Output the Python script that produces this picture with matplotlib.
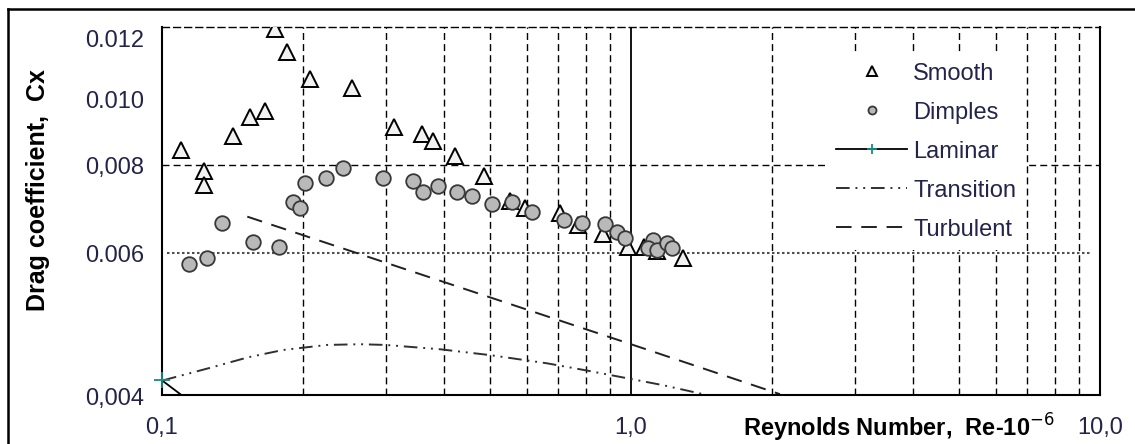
import numpy as np
import matplotlib.pyplot as plt
from matplotlib.lines import Line2D
from matplotlib.ticker import LogLocator, NullLocator, NullFormatter
from matplotlib.transforms import ScaledTranslation

plt.rcParams['font.family'] = ['Liberation Sans', 'DejaVu Sans']

# measured drag coefficients (Re in millions)
smooth_re = [0.110, 0.123, 0.123, 0.142, 0.154, 0.166, 0.174, 0.185, 0.207, 0.254,
             0.312, 0.358, 0.378, 0.421, 0.486, 0.552, 0.594, 0.706, 0.771, 0.872,
             0.985, 1.066, 1.136, 1.291]
smooth_cx = [0.00837, 0.00784, 0.00752, 0.00871, 0.00922, 0.00941, 0.01201, 0.01124, 0.01036, 0.01006,
             0.00897, 0.00876, 0.00858, 0.00822, 0.00772, 0.00716, 0.00703, 0.00691, 0.00668, 0.00649,
             0.00624, 0.00624, 0.00616, 0.00604]

dimples_re = [0.114, 0.125, 0.134, 0.156, 0.178, 0.190, 0.197, 0.202, 0.224, 0.243,
              0.296, 0.343, 0.360, 0.388, 0.426, 0.458, 0.505, 0.558, 0.615, 0.720,
              0.786, 0.880, 0.934, 0.971, 1.114, 1.087, 1.136, 1.193, 1.223]
dimples_cx = [0.00593, 0.00604, 0.00672, 0.00633, 0.00624, 0.00714, 0.00701, 0.00756, 0.00768, 0.00791,
              0.00768, 0.00761, 0.00736, 0.00749, 0.00736, 0.00727, 0.00710, 0.00714, 0.00693, 0.00677,
              0.00672, 0.00670, 0.00653, 0.00641, 0.00637, 0.00622, 0.00618, 0.00631, 0.00622]

laminar_re = [0.100, 0.110]
laminar_cx = [0.00418, 0.00400]

transition_re = [0.1005, 0.1265, 0.1526, 0.1811, 0.2249, 0.2644, 0.300, 0.3916, 0.5005,
                 0.6622, 0.7978, 0.995, 1.170, 1.424]
transition_cx = [0.00418, 0.00434, 0.00448, 0.00458, 0.00465, 0.00466, 0.00465, 0.00459, 0.00451,
                 0.00440, 0.00431, 0.00420, 0.00412, 0.00401]

turbulent_re = [0.152, 1.0, 2.078]
turbulent_cx = [0.00684, 0.00466, 0.00401]

level_re = [0.1025, 9.62]
level_cx = [0.00613, 0.00613]

x_ticks = [0.1, 1.0, 10.0]
x_tick_labels = ['0,1', '1,0', '10,0']
y_ticks = [0.004, 0.006, 0.008, 0.010, 0.012]
y_tick_labels = ['0,004', '0.006', '0,008', '0.010', '0.012']
# the hand-placed labels in the source sit a little off their ticks (pixels, +up)
y_label_shift = [-1, 7, -1, -9, -9]

label_color = '#24244a'
fs = 17

fig = plt.figure(figsize=(11.35, 4.44), dpi=100)
ax = fig.add_axes([162 / 1135, 49 / 444, 938 / 1135, 368 / 444])
ax.set_xscale('log')
ax.set_yscale('log')
ax.set_xlim(0.1, 10)
ax.set_ylim(0.004, 0.0121)

# grid: dashed minor decades, solid at 1.0, dashed at 0.008
ax.xaxis.set_minor_locator(LogLocator(subs=np.arange(2, 10)))
ax.xaxis.set_minor_formatter(NullFormatter())
ax.yaxis.set_minor_locator(NullLocator())
ax.yaxis.set_minor_formatter(NullFormatter())
ax.grid(which='minor', axis='x', color='black', ls=(0, (5, 3)), lw=1.0, zorder=0)
ax.axvline(1.0, color='black', lw=1.3, zorder=0)
ax.axhline(0.008, color='black', ls=(0, (5, 3)), lw=1.0, zorder=0)
ax.plot(level_re, level_cx, color='#505050', ls=(0, (1.2, 1.2)), lw=1.5, zorder=1)

ax.set_xticks(x_ticks)
ax.set_xticklabels(x_tick_labels)
ax.set_yticks(y_ticks)
ax.set_yticklabels(y_tick_labels)
ax.tick_params(which='both', length=0)
ax.tick_params(axis='x', pad=16, labelsize=fs, labelcolor=label_color)
ax.tick_params(axis='y', pad=13, labelsize=fs, labelcolor=label_color)
for lab, dy in zip(ax.get_yticklabels(), y_label_shift):
    lab.set_transform(lab.get_transform() + ScaledTranslation(0, dy / 100, fig.dpi_scale_trans))

for side in ['left', 'right', 'bottom']:
    ax.spines[side].set_linewidth(1.5)
ax.spines['top'].set_linestyle((0, (5, 3)))
ax.spines['top'].set_linewidth(1.0)

# theory curves
ax.plot(laminar_re, laminar_cx, color='black', lw=1.3, zorder=3)
ax.plot(laminar_re[:1], laminar_cx[:1], ls='none', marker='+', ms=12, mew=1.3,
        color='#168c84', clip_on=False, zorder=4)
ax.plot(transition_re, transition_cx, color='#303030', lw=1.4,
        ls=(0, (7, 3, 1, 3, 1, 3)), zorder=2)
ax.plot(turbulent_re, turbulent_cx, color='#202020', lw=1.4, ls=(0, (8, 5)), zorder=2)

# measurements
ax.plot(smooth_re, smooth_cx, ls='none', marker='^', ms=12, mfc='#f2f2f2',
        mec='black', mew=1.4, zorder=5)
ax.plot(dimples_re, dimples_cx, ls='none', marker='o', ms=10.5, mfc='#b9b9b9',
        mec='#383838', mew=1.3, zorder=6)

handles = [
    Line2D([], [], ls='none', marker='^', ms=12, mfc='#f2f2f2', mec='black', mew=1.4),
    Line2D([], [], ls='none', marker='o', ms=10.5, mfc='#b9b9b9', mec='#383838', mew=1.3),
    Line2D([], [], color='black', lw=1.3, marker='+', ms=12, mew=1.3,
           mec='#168c84', markevery=[1]),
    Line2D([], [], color='#303030', lw=1.4, ls=(0, (7, 3, 1, 3, 1, 3))),
    Line2D([], [], color='#202020', lw=1.4, ls=(0, (8, 5))),
]
names = ['Smooth', 'Dimples', 'Laminar', 'Transition', 'Turbulent']
leg = ax.legend(handles, names, loc='upper left', bbox_to_anchor=(0.709, 0.929),
                borderaxespad=0, frameon=True, fancybox=False, edgecolor='none',
                facecolor='white', framealpha=1, fontsize=fs, markerscale=0.55,
                handlelength=3.0, handletextpad=0.25, labelspacing=0.72, borderpad=0.4)
for t in leg.get_texts():
    t.set_color(label_color)
leg.set_zorder(10)

ax.text(0.619, -0.09, 'Reynolds Number,  Re-10$^{-6}$', transform=ax.transAxes,
        ha='left', va='center', fontsize=fs, fontweight='bold', color='black')
fig.text(38 / 1135, 1 - 190 / 444, 'Drag coefficient,  Cx', rotation=90,
         ha='center', va='center', fontsize=fs + 1, fontweight='bold')

# outer frame (top and left edges visible in the crop)
fig.add_artist(Line2D([8 / 1135, 8 / 1135], [0, 1 - 9 / 444], transform=fig.transFigure,
                      color='black', lw=1.8))
fig.add_artist(Line2D([8 / 1135, 1], [1 - 9 / 444, 1 - 9 / 444], transform=fig.transFigure,
                      color='black', lw=1.8))

fig.savefig('out.png', dpi=100)
